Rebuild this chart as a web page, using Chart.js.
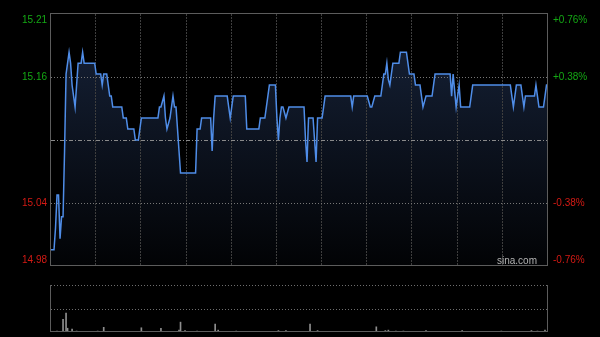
<!DOCTYPE html>
<html><head><meta charset="utf-8">
<script src="https://cdn.jsdelivr.net/npm/chart.js@4.4.1/dist/chart.umd.min.js"></script>
<style>
html,body{margin:0;padding:0;background:#000;width:600px;height:337px;overflow:hidden}
#wrap{position:relative;width:600px;height:337px;background:#000}
canvas{position:absolute;left:0}
#c1{top:0}
#c2{top:275px}
</style></head><body>
<div id="wrap"><canvas id="c1" width="600" height="275"></canvas><canvas id="c2" width="600" height="62"></canvas></div>
<script>
const prevClose = 15.10;
const pctTicks = [0.76, 0.38, -0.38, -0.76];
const priceTickLabels = ['15.21', '15.16', '15.04', '14.98'];
const pctTickLabels = ['+0.76%', '+0.38%', '-0.38%', '-0.76%'];
const sessions = [['09:30', '12:00'], ['13:01', '16:00']];
const gridEvery = 30;
const watermark = 'sina.com';

const prices = [
15.00,15.00,15.00,15.02,15.05,15.05,15.01,15.03,15.03,15.09,
15.16,15.17,15.18,15.17,15.15,15.14,15.13,15.15,15.17,15.17,
15.17,15.18,15.17,15.17,15.17,15.17,15.17,15.17,15.17,15.17,
15.16,15.16,15.16,15.16,15.15,15.16,15.16,15.16,15.15,15.14,
15.14,15.13,15.13,15.13,15.13,15.13,15.13,15.13,15.12,15.12,
15.12,15.11,15.11,15.11,15.11,15.11,15.10,15.10,15.10,15.11,
15.12,15.12,15.12,15.12,15.12,15.12,15.12,15.12,15.12,15.12,
15.12,15.12,15.13,15.13,15.135,15.14,15.12,15.11,15.115,15.12,
15.13,15.14,15.13,15.13,15.11,15.09,15.07,15.07,15.07,15.07,
15.07,15.07,15.07,15.07,15.07,15.07,15.07,15.11,15.11,15.11,
15.12,15.12,15.12,15.12,15.12,15.12,15.12,15.09,15.12,15.14,
15.14,15.14,15.14,15.14,15.14,15.14,15.14,15.14,15.13,15.12,
15.13,15.14,15.14,15.14,15.14,15.14,15.14,15.14,15.14,15.14,
15.11,15.11,15.11,15.11,15.11,15.11,15.11,15.11,15.11,15.12,
15.12,15.12,15.12,15.13,15.14,15.15,15.15,15.15,15.15,15.15,
15.12,15.10,15.12,15.13,15.13,15.125,15.12,15.125,15.13,15.13,
15.13,15.13,15.13,15.13,15.13,15.13,15.13,15.13,15.13,15.10,
15.08,15.12,15.12,15.12,15.12,15.10,15.08,15.12,15.12,15.12,
15.12,15.13,15.14,15.14,15.14,15.14,15.14,15.14,15.14,15.14,
15.14,15.14,15.14,15.14,15.14,15.14,15.14,15.14,15.14,15.14,
15.13,15.14,15.14,15.14,15.14,15.14,15.14,15.14,15.14,15.14,
15.14,15.135,15.13,15.13,15.135,15.14,15.14,15.14,15.14,15.14,
15.15,15.16,15.16,15.17,15.155,15.15,15.16,15.17,15.17,15.17,
15.17,15.17,15.18,15.18,15.18,15.18,15.18,15.17,15.16,15.16,
15.16,15.16,15.15,15.15,15.15,15.15,15.14,15.13,15.135,15.14,
15.14,15.14,15.14,15.14,15.15,15.16,15.16,15.16,15.16,15.16,
15.16,15.16,15.16,15.16,15.16,15.16,15.14,15.16,15.145,15.13,
15.14,15.15,15.13,15.13,15.13,15.13,15.13,15.13,15.13,15.14,
15.15,15.15,15.15,15.15,15.15,15.15,15.15,15.15,15.15,15.15,
15.15,15.15,15.15,15.15,15.15,15.15,15.15,15.15,15.15,15.15,
15.15,15.15,15.15,15.15,15.15,15.15,15.14,15.13,15.14,15.15,
15.15,15.15,15.15,15.14,15.13,15.14,15.14,15.14,15.14,15.14,
15.14,15.14,15.15,15.14,15.13,15.13,15.13,15.13,15.14,15.15,
15.15
];

const volumes = [
0,1,1,1,2,1,1,1,27,1,
40,8,1,1,6,1,1,2,1,1,
1,1,1,1,1,1,1,1,1,1,
1,2,1,1,1,10,1,1,1,1,
1,1,1,1,1,1,1,1,1,1,
1,1,1,1,1,1,1,1,1,1,
9,1,1,1,1,1,1,1,1,1,
1,1,1,8,1,1,1,1,1,1,
1,1,1,1,1,4,21,1,1,3,
1,1,1,1,1,1,1,2,1,1,
1,1,1,1,1,1,1,1,1,17,
1,4,1,1,1,1,1,1,1,1,
1,1,1,2,1,1,1,1,1,1,
1,1,1,1,1,1,1,1,1,1,
1,1,1,1,1,1,1,1,1,1,
1,3,1,1,1,1,3,1,1,1,
1,1,1,1,1,1,1,1,1,1,
1,1,17,1,1,1,1,3,1,1,
1,1,1,1,1,1,1,1,1,1,
1,1,1,1,1,1,1,1,1,1,
1,1,1,1,1,1,1,1,1,1,
1,1,1,1,1,1,11,1,1,1,
1,1,3,1,4,1,1,1,1,2,
1,1,1,1,2,1,1,1,1,1,
1,1,1,1,1,1,1,1,1,3,
1,1,1,1,1,1,1,1,1,1,
1,1,1,1,1,1,1,1,1,1,
1,1,1,3,1,1,1,1,1,1,
1,1,1,1,1,1,1,1,1,1,
1,1,1,1,1,1,1,1,1,2,
1,1,1,1,1,1,1,1,1,1,
1,1,1,1,1,1,1,1,1,3,
1,1,1,2,1,1,1,1,4,1,
1
];
const volumeMax = 100;

// minute categories
function toMin(s){const p=s.split(':');return (+p[0])*60+(+p[1]);}
function toStr(m){const h=Math.floor(m/60),mm=m%60;return String(h).padStart(2,'0')+':'+String(mm).padStart(2,'0');}
const times = [];
sessions.forEach(([a,b])=>{for(let m=toMin(a);m<=toMin(b);m++) times.push(toStr(m));});

const FONT = '10px "Liberation Sans", Arial, sans-serif';
const GREEN = '#14a814';
const RED = '#d41a14';
const BORDER = '#5c5c5c';

function seg(ctx,x1,y1,x2,y2){ctx.beginPath();ctx.moveTo(x1,y1);ctx.lineTo(x2,y2);ctx.stroke();}

const priceFrame = {
  id:'priceFrame',
  beforeDatasetDraw(chart, args){
    if(args.index!==0) return;
    const {ctx, chartArea:a, scales:{x,y}} = chart;
    ctx.save();
    ctx.lineWidth = 1;
    ctx.strokeStyle = '#3e3e3e';
    ctx.setLineDash([2,1]);
    for(let i=gridEvery;i<times.length-1;i+=gridEvery){
      const px = Math.round(x.getPixelForValue(i))-0.5;
      seg(ctx,px,a.top,px,a.bottom);
    }
    ctx.strokeStyle = '#767676';
    ctx.setLineDash([1,2]);
    pctTicks.forEach(p=>{
      if(Math.abs(p)===Math.max(...pctTicks.map(Math.abs))) return;
      const py = Math.round(y.getPixelForValue(prevClose*(1+p/100)))+0.5;
      seg(ctx,a.left,py,a.right,py);
    });
    ctx.strokeStyle = '#8a8a8a';
    ctx.setLineDash([4,2,1,2]);
    const pc = Math.round(y.getPixelForValue(prevClose))+0.5;
    seg(ctx,a.left,pc,a.right,pc);
    ctx.restore();
  },
  afterDraw(chart){
    const {ctx, chartArea:a, scales:{y}} = chart;
    ctx.save();
    ctx.strokeStyle = BORDER; ctx.lineWidth = 1; ctx.setLineDash([]);
    ctx.strokeRect(a.left-0.5, a.top-0.5, a.right-a.left, a.bottom-a.top);
    ctx.font = FONT; ctx.textBaseline = 'middle';
    pctTicks.forEach((p,k)=>{
      let py = y.getPixelForValue(prevClose*(1+p/100));
      py = Math.min(Math.max(py, a.top+6), a.bottom-6);
      ctx.fillStyle = p>0 ? GREEN : RED;
      ctx.textAlign = 'right'; ctx.fillText(priceTickLabels[k], a.left-4, py);
      ctx.textAlign = 'left'; ctx.fillText(pctTickLabels[k], a.right+5, py);
    });
    ctx.fillStyle = '#b4b4b4'; ctx.textAlign = 'right'; ctx.textBaseline = 'alphabetic';
    ctx.fillText(watermark, a.right-11, a.bottom-2);
    ctx.restore();
  }
};

const volFrame = {
  id:'volFrame',
  beforeDatasetsDraw(chart){
    const {ctx, chartArea:a, scales:{y}} = chart;
    ctx.save();
    ctx.lineWidth = 1;
    ctx.strokeStyle = '#6e6e6e';
    ctx.setLineDash([1,2]);
    seg(ctx,a.left,a.top+0.5,a.right,a.top+0.5);
    const pm = Math.round(y.getPixelForValue(volumeMax/2))+0.5;
    seg(ctx,a.left,pm,a.right,pm);
    ctx.restore();
  },
  afterDraw(chart){
    const {ctx, chartArea:a} = chart;
    ctx.save();
    ctx.lineWidth = 1; ctx.strokeStyle = BORDER; ctx.setLineDash([]);
    seg(ctx,a.left-0.5,a.top,a.left-0.5,a.bottom);
    seg(ctx,a.right-0.5,a.top,a.right-0.5,a.bottom);
    seg(ctx,a.left-0.5,a.bottom-0.5,a.right,a.bottom-0.5);
    ctx.restore();
  }
};

const rangePct = Math.max(...pctTicks.map(Math.abs));

new Chart(document.getElementById('c1'), {
  type:'line',
  data:{labels:times, datasets:[{
    data:prices,
    borderColor:'#4f8de8',
    borderWidth:1.5,
    pointRadius:0,
    tension:0,
    fill:'start',
    backgroundColor:(c)=>{
      const a = c.chart.chartArea; if(!a) return 'rgba(0,0,0,0)';
      const g = c.chart.ctx.createLinearGradient(0,a.top,0,a.bottom);
      g.addColorStop(0,'rgb(23,35,58)');
      g.addColorStop(1,'rgb(2,3,5)');
      return g;
    }
  }]},
  options:{
    responsive:false, animation:false, devicePixelRatio:1, events:[],
    layout:{padding:{left:51,right:52,top:14,bottom:9}},
    scales:{
      x:{display:false},
      y:{display:false, min:prevClose*(1-rangePct/100), max:prevClose*(1+rangePct/100)}
    },
    plugins:{legend:{display:false}, tooltip:{enabled:false}, filler:{drawTime:'beforeDatasetsDraw'}}
  },
  plugins:[priceFrame]
});

new Chart(document.getElementById('c2'), {
  type:'bar',
  data:{labels:times, datasets:[{
    data:volumes,
    backgroundColor:'#8e8e8e',
    barThickness:1,
    borderWidth:0
  }]},
  options:{
    responsive:false, animation:false, devicePixelRatio:1, events:[],
    layout:{padding:{left:51,right:52,top:10,bottom:5}},
    scales:{
      x:{display:false, offset:false},
      y:{display:false, min:0, max:volumeMax}
    },
    plugins:{legend:{display:false}, tooltip:{enabled:false}}
  },
  plugins:[volFrame]
});
</script>
</body></html>
